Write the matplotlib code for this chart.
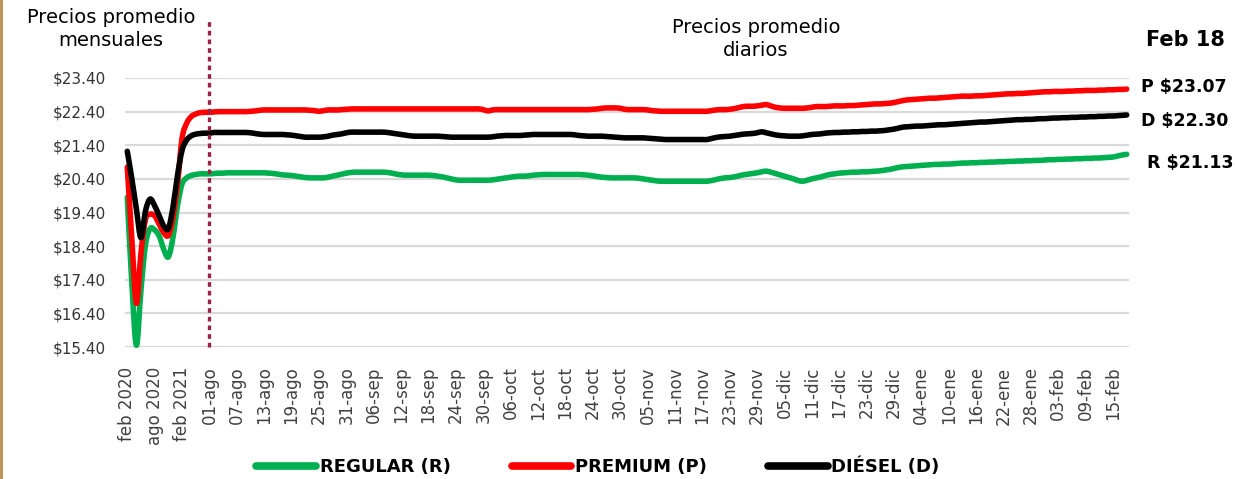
import numpy as np
import matplotlib
matplotlib.use("Agg")
import matplotlib.pyplot as plt
from matplotlib.path import Path
from matplotlib.patches import PathPatch, Rectangle
from matplotlib.lines import Line2D

# Monthly averages, feb 2020 - jul 2021
monthly_regular = [19.85, 17.30, 15.45, 17.10, 18.45, 18.92, 18.88, 18.70, 18.30,
                   18.08, 18.65, 19.60, 20.25, 20.43, 20.50, 20.53, 20.55, 20.55]
monthly_premium = [20.75, 18.60, 16.70, 18.20, 19.20, 19.35, 19.30, 19.05, 18.80,
                   18.72, 19.25, 20.25, 21.60, 22.05, 22.25, 22.33, 22.37, 22.38]
monthly_diesel = [21.22, 20.40, 19.50, 18.65, 19.45, 19.80, 19.60, 19.30, 19.00,
                  18.92, 19.55, 20.50, 21.25, 21.55, 21.68, 21.73, 21.75, 21.76]

# Daily prices, 01-ago-2021 to 18-feb-2022
daily_regular = [
    20.55, 20.56, 20.57, 20.57, 20.58, 20.58, 20.58, 20.58, 20.58, 20.58,
    20.58, 20.58, 20.58, 20.57, 20.56, 20.54, 20.52, 20.51, 20.50, 20.48,
    20.46, 20.44, 20.43, 20.43, 20.43, 20.43, 20.45, 20.48, 20.51, 20.54,
    20.57, 20.59, 20.60, 20.60, 20.60, 20.60, 20.60, 20.60, 20.60, 20.59,
    20.57, 20.54, 20.52, 20.51, 20.51, 20.51, 20.51, 20.51, 20.51, 20.50,
    20.48, 20.46, 20.43, 20.40, 20.37, 20.36, 20.36, 20.36, 20.36, 20.36,
    20.36, 20.36, 20.37, 20.39, 20.41, 20.43, 20.45, 20.47, 20.48, 20.48,
    20.49, 20.51, 20.52, 20.53, 20.53, 20.53, 20.53, 20.53, 20.53, 20.53,
    20.53, 20.53, 20.52, 20.51, 20.49, 20.47, 20.45, 20.44, 20.43, 20.43,
    20.43, 20.43, 20.43, 20.43, 20.42, 20.40, 20.38, 20.36, 20.34, 20.33,
    20.33, 20.33, 20.33, 20.33, 20.33, 20.33, 20.33, 20.33, 20.33, 20.33,
    20.35, 20.38, 20.41, 20.43, 20.44, 20.46, 20.49, 20.52, 20.54, 20.56,
    20.58, 20.61, 20.63, 20.60, 20.56, 20.52, 20.48, 20.44, 20.40, 20.35,
    20.33, 20.36, 20.40, 20.43, 20.46, 20.50, 20.53, 20.55, 20.57, 20.58,
    20.59, 20.60, 20.60, 20.61, 20.61, 20.62, 20.63, 20.64, 20.66, 20.68,
    20.71, 20.74, 20.76, 20.77, 20.78, 20.79, 20.80, 20.81, 20.82, 20.83,
    20.83, 20.84, 20.84, 20.85, 20.86, 20.87, 20.87, 20.88, 20.88, 20.89,
    20.89, 20.90, 20.90, 20.91, 20.91, 20.92, 20.92, 20.93, 20.93, 20.94,
    20.94, 20.95, 20.95, 20.96, 20.97, 20.97, 20.98, 20.98, 20.99, 20.99,
    21.00, 21.00, 21.01, 21.01, 21.02, 21.02, 21.03, 21.04, 21.05, 21.08,
    21.11, 21.13,
]
daily_premium = [
    22.38, 22.39, 22.40, 22.40, 22.40, 22.40, 22.40, 22.40, 22.40, 22.41,
    22.42, 22.44, 22.45, 22.45, 22.45, 22.45, 22.45, 22.45, 22.45, 22.45,
    22.45, 22.45, 22.44, 22.43, 22.41, 22.43, 22.45, 22.45, 22.45, 22.46,
    22.47, 22.48, 22.48, 22.48, 22.48, 22.48, 22.48, 22.48, 22.48, 22.48,
    22.48, 22.48, 22.48, 22.48, 22.48, 22.48, 22.48, 22.48, 22.48, 22.48,
    22.48, 22.48, 22.48, 22.48, 22.48, 22.48, 22.48, 22.48, 22.48, 22.48,
    22.46, 22.42, 22.45, 22.46, 22.46, 22.46, 22.46, 22.46, 22.46, 22.46,
    22.46, 22.46, 22.46, 22.46, 22.46, 22.46, 22.46, 22.46, 22.46, 22.46,
    22.46, 22.46, 22.46, 22.46, 22.47, 22.48, 22.50, 22.51, 22.51, 22.51,
    22.50, 22.47, 22.46, 22.46, 22.46, 22.46, 22.45, 22.43, 22.42, 22.41,
    22.41, 22.41, 22.41, 22.41, 22.41, 22.41, 22.41, 22.41, 22.41, 22.41,
    22.43, 22.45, 22.46, 22.46, 22.47, 22.49, 22.52, 22.55, 22.56, 22.56,
    22.57, 22.59, 22.61, 22.57, 22.53, 22.51, 22.50, 22.50, 22.50, 22.50,
    22.50, 22.51, 22.53, 22.55, 22.55, 22.55, 22.56, 22.57, 22.57, 22.57,
    22.58, 22.58, 22.59, 22.60, 22.61, 22.62, 22.63, 22.63, 22.64, 22.65,
    22.67, 22.70, 22.73, 22.75, 22.76, 22.77, 22.78, 22.79, 22.80, 22.80,
    22.81, 22.82, 22.83, 22.84, 22.85, 22.86, 22.86, 22.86, 22.87, 22.87,
    22.88, 22.89, 22.90, 22.91, 22.92, 22.93, 22.93, 22.94, 22.94, 22.95,
    22.96, 22.97, 22.98, 22.99, 22.99, 23.00, 23.00, 23.00, 23.01, 23.01,
    23.02, 23.02, 23.03, 23.03, 23.03, 23.04, 23.04, 23.05, 23.05, 23.06,
    23.06, 23.07,
]
daily_diesel = [
    21.76, 21.78, 21.78, 21.78, 21.78, 21.78, 21.78, 21.78, 21.78, 21.77,
    21.75, 21.73, 21.72, 21.72, 21.72, 21.72, 21.72, 21.71, 21.70, 21.68,
    21.66, 21.64, 21.64, 21.64, 21.64, 21.65, 21.67, 21.70, 21.72, 21.74,
    21.77, 21.79, 21.79, 21.79, 21.79, 21.79, 21.79, 21.79, 21.79, 21.78,
    21.76, 21.74, 21.72, 21.70, 21.68, 21.67, 21.67, 21.67, 21.67, 21.67,
    21.67, 21.66, 21.65, 21.64, 21.64, 21.64, 21.64, 21.64, 21.64, 21.64,
    21.64, 21.64, 21.65, 21.67, 21.68, 21.69, 21.69, 21.69, 21.69, 21.70,
    21.71, 21.72, 21.72, 21.72, 21.72, 21.72, 21.72, 21.72, 21.72, 21.72,
    21.71, 21.69, 21.68, 21.67, 21.67, 21.67, 21.67, 21.66, 21.65, 21.64,
    21.63, 21.62, 21.62, 21.62, 21.62, 21.62, 21.61, 21.60, 21.59, 21.58,
    21.57, 21.57, 21.57, 21.57, 21.57, 21.57, 21.57, 21.57, 21.57, 21.57,
    21.60, 21.63, 21.65, 21.66, 21.67, 21.69, 21.71, 21.73, 21.74, 21.75,
    21.77, 21.80, 21.77, 21.74, 21.71, 21.69, 21.68, 21.67, 21.67, 21.67,
    21.68, 21.70, 21.72, 21.73, 21.74, 21.76, 21.77, 21.78, 21.78, 21.79,
    21.79, 21.80, 21.80, 21.81, 21.81, 21.82, 21.82, 21.83, 21.84, 21.86,
    21.88, 21.91, 21.94, 21.95, 21.96, 21.97, 21.97, 21.98, 21.99, 22.00,
    22.01, 22.01, 22.02, 22.03, 22.04, 22.05, 22.06, 22.07, 22.08, 22.09,
    22.09, 22.10, 22.11, 22.12, 22.13, 22.14, 22.15, 22.16, 22.16, 22.17,
    22.17, 22.18, 22.19, 22.19, 22.20, 22.21, 22.21, 22.22, 22.22, 22.23,
    22.23, 22.24, 22.24, 22.25, 22.25, 22.26, 22.26, 22.27, 22.27, 22.28,
    22.29, 22.30,
]

monthly_tick_labels = ["feb 2020", "ago 2020", "feb 2021"]
daily_tick_labels = [
    "01-ago", "07-ago", "13-ago", "19-ago", "25-ago", "31-ago",
    "06-sep", "12-sep", "18-sep", "24-sep", "30-sep",
    "06-oct", "12-oct", "18-oct", "24-oct", "30-oct",
    "05-nov", "11-nov", "17-nov", "23-nov", "29-nov",
    "05-dic", "11-dic", "17-dic", "23-dic", "29-dic",
    "04-ene", "10-ene", "16-ene", "22-ene", "28-ene",
    "03-feb", "09-feb", "15-feb",
]
y_ticks = [15.40, 16.40, 17.40, 18.40, 19.40, 20.40, 21.40, 22.40, 23.40]

series_names = ["REGULAR (R)", "PREMIUM (P)", "DIÉSEL (D)"]
series_colors = ["#00B050", "#FF0000", "#000000"]
last_labels = ["R $21.13", "P $23.07", "D $22.30"]


def smooth_path(x, y):
    # Catmull-Rom style bezier, like Excel's smoothed line
    verts = [(x[0], y[0])]
    codes = [Path.MOVETO]
    n = len(x)
    for i in range(n - 1):
        p0 = i - 1 if i > 0 else i
        p3 = i + 2 if i + 2 < n else i + 1
        c1 = (x[i] + (x[i + 1] - x[p0]) / 6, y[i] + (y[i + 1] - y[p0]) / 6)
        c2 = (x[i + 1] - (x[p3] - x[i]) / 6, y[i + 1] - (y[p3] - y[i]) / 6)
        verts += [c1, c2, (x[i + 1], y[i + 1])]
        codes += [Path.CURVE4] * 3
    return Path(verts, codes)


plt.rcParams["font.family"] = ["DejaVu Sans"]

fig = plt.figure(figsize=(12.35, 4.79), dpi=100)
ax = fig.add_axes([125 / 1235, 132 / 479, 1004 / 1235, 269 / 479])

n_month = len(monthly_regular)
series = [
    monthly_regular + daily_regular,
    monthly_premium + daily_premium,
    monthly_diesel + daily_diesel,
]
x = np.arange(len(series[0]))

for values, color in zip(series, series_colors):
    patch = PathPatch(
        smooth_path(x, np.array(values)),
        fill=False,
        edgecolor=color,
        linewidth=4,
        capstyle="round",
        joinstyle="round",
        clip_on=False,
        zorder=3,
    )
    ax.add_patch(patch)

ax.set_xlim(-0.5, len(x) - 0.5)
ax.set_ylim(15.4, 23.4)

# grid
ax.set_yticks(y_ticks)
ax.set_yticklabels([f"${v:.2f}" for v in y_ticks], fontsize=11, color="#333333")
ax.grid(axis="y", color="#D9D9D9", linewidth=1.6)
ax.set_axisbelow(True)
for spine in ax.spines.values():
    spine.set_visible(False)

tick_pos = [0, 6, 12] + [n_month + 6 * k for k in range(len(daily_tick_labels))]
ax.set_xticks(tick_pos)
ax.set_xticklabels(monthly_tick_labels + daily_tick_labels, rotation=90,
                   fontsize=12, color="#404040")
ax.tick_params(axis="both", length=0)
ax.tick_params(axis="x", pad=14)
ax.tick_params(axis="y", pad=14)

# separator monthly / daily
ax.axvline(n_month, ymin=0, ymax=1.215, color="#9B2247", linewidth=2.4,
           linestyle=(0, (1.4, 1.2)), clip_on=False, zorder=4)

fig.text(111 / 1235, 1 - 8 / 479, "Precios promedio\nmensuales", ha="center",
         va="top", fontsize=14, linespacing=1.25)
fig.text(756 / 1235, 1 - 18 / 479, "Precios promedio\ndiarios", ha="center",
         va="top", fontsize=14, linespacing=1.25)
fig.text(1185 / 1235, 1 - 40 / 479, "Feb 18", ha="center", va="center",
         fontsize=15, fontweight="bold")
fig.text(1147 / 1235, 1 - 163 / 479, last_labels[0], ha="left", va="center",
         fontsize=12.5, fontweight="bold")
fig.text(1141 / 1235, 1 - 87 / 479, last_labels[1], ha="left", va="center",
         fontsize=12.5, fontweight="bold")
fig.text(1141 / 1235, 1 - 121 / 479, last_labels[2], ha="left", va="center",
         fontsize=12.5, fontweight="bold")

# left gold border
fig.add_artist(Rectangle((0, 0), 3 / 1235, 1, transform=fig.transFigure,
                         color="#BC955C", linewidth=0))

handles = [Line2D([], [], color=c, linewidth=5.5, solid_capstyle="round")
           for c in series_colors]
fig.legend(handles, series_names, loc="center", bbox_to_anchor=(598 / 1235, 12 / 479),
           ncol=3, frameon=False, handlelength=3.3, handletextpad=0.2,
           columnspacing=3.4, prop={"weight": "bold", "size": 13})

fig.savefig("out.png", dpi=100)
